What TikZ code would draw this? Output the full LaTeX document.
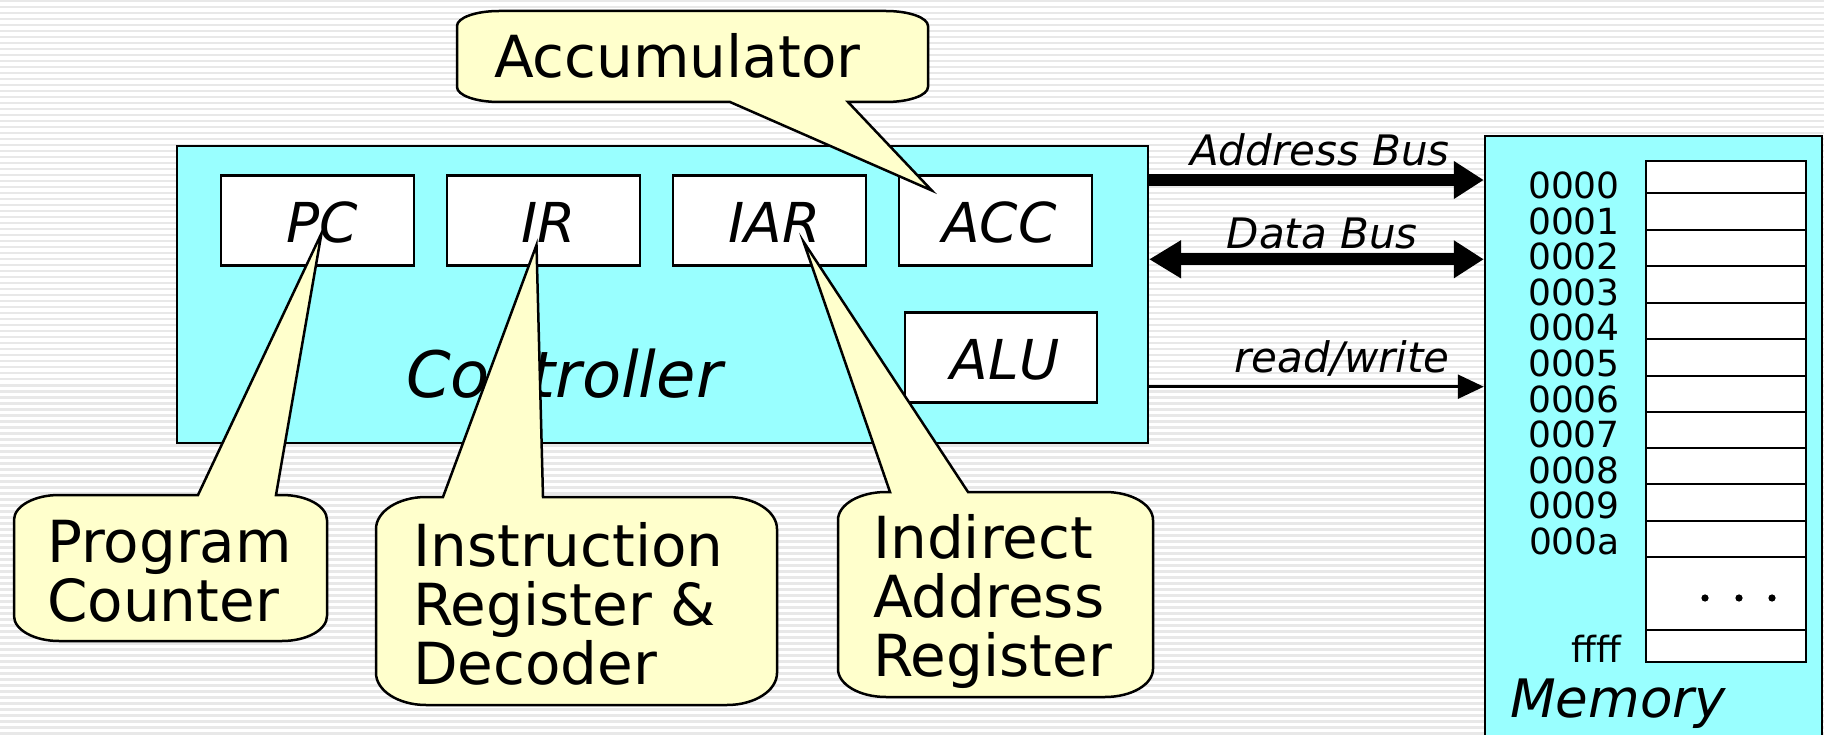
\documentclass[tikz,border=0pt]{standalone}
\usepackage{fontspec}
\setmainfont{DejaVu Sans}
\usetikzlibrary{arrows.meta,calc}

\definecolor{cpucyan}{HTML}{99FFFF}
\definecolor{notecream}{HTML}{FFFFCC}
\definecolor{stripegray}{HTML}{E8E8E8}

\newcommand\fsz[1]{\fontsize{#1}{#1}\selectfont}

% speech bubble with its pointer leaving the top edge
% #1 x1, #2 y1, #3 x2, #4 y2, #5 corner x radius, #6 corner y radius,
% #7/#8 pointer base x positions, #9 pointer tip coordinate
\newcommand\notetop[9]{%
  \draw[bubble] (#1,#2+#6) arc[start angle=180,end angle=270,x radius=#5,y radius=#6]
    -- (#7,#2) -- (#9) -- (#8,#2) -- (#3-#5,#2)
    arc[start angle=270,end angle=360,x radius=#5,y radius=#6]
    -- (#3,#4-#6) arc[start angle=0,end angle=90,x radius=#5,y radius=#6]
    -- (#1+#5,#4) arc[start angle=90,end angle=180,x radius=#5,y radius=#6] -- cycle;}
% same, pointer leaving the bottom edge
\newcommand\notebottom[9]{%
  \draw[bubble] (#1,#2+#6) arc[start angle=180,end angle=270,x radius=#5,y radius=#6]
    -- (#3-#5,#2) arc[start angle=270,end angle=360,x radius=#5,y radius=#6]
    -- (#3,#4-#6) arc[start angle=0,end angle=90,x radius=#5,y radius=#6]
    -- (#8,#4) -- (#9) -- (#7,#4)
    -- (#1+#5,#4) arc[start angle=90,end angle=180,x radius=#5,y radius=#6] -- cycle;}

\tikzset{
  outline/.style={draw=black, line width=2.5pt},
  unitbox/.style={outline, fill=cpucyan, inner sep=0pt},
  reg/.style={outline, fill=white, minimum width=193pt, minimum height=90pt,
    inner sep=0pt, text depth=0pt, font=\fsz{55}\itshape},
  reglabel/.style={anchor=base, inner sep=0pt, font=\fsz{55}\itshape},
  bubble/.style={draw=black, line width=2.5pt, fill=notecream, line join=miter},
  note/.style={anchor=north west, inner sep=0pt, align=left,
    font=\fontsize{58}{59}\selectfont},
  buslabel/.style={anchor=base east, inner sep=0pt, font=\fsz{42}\itshape},
  addr/.style={anchor=base east, inner sep=0pt, font=\fsz{36}},
  bigitalic/.style={anchor=base west, inner sep=0pt, font=\fsz{#1}\itshape},
  cellline/.style={draw=black, line width=2.5pt},
  bus/.style={line width=12pt, -{Triangle[length=30pt,width=36pt]}},
  bidibus/.style={line width=12pt, {Triangle[length=32pt,width=36pt]}-{Triangle[length=30pt,width=36pt]}},
  signal/.style={line width=2.5pt, -{Triangle[length=26pt,width=24pt]}},
}

\begin{document}
\begin{tikzpicture}[x=1pt, y=-1pt]
  \useasboundingbox (0,0) rectangle (1824,735);
  \clip (0,0) rectangle (1824,735);

  % striped backdrop
  \fill[white] (0,0) rectangle (1824,735);
  \foreach \i in {0,...,122} {\fill[stripegray] (0,\i*6) rectangle (1824,\i*6+2.5);}

  % controller and its registers
  \node[unitbox, minimum width=971pt, minimum height=297pt] (ctrl) at (662.4,294.5) {};
  \node[reg] (pc)  at (317.5,220.7) {};
  \node[reg] (ir)  at (543.5,220.7) {};
  \node[reg] (iar) at (769.5,220.7) {};
  \node[reg] (acc) at (995.5,220.7) {};
  \node[reg, minimum width=192pt] (alu) at (1001,357.7) {};
  \node[reglabel] (pctext)  at ($(pc.center)+(5,22)$) {PC};
  \node[reglabel] (irtext)  at ($(ir.center)+(5,22)$) {IR};
  \node[reglabel] (iartext) at ($(iar.center)+(5,22)$) {IAR};
  \node[reglabel] (acctext) at ($(acc.center)+(4,22)$) {ACC};
  \node[reglabel] (alutext) at ($(alu.center)+(4,22)$) {ALU};
  \node[bigitalic=64] (ctrllabel) at (406,397) {Controller};

  % memory
  \node[unitbox, minimum width=337pt, minimum height=624pt] (mem) at (1653.5,448) {};
  \draw[cellline, fill=white] (1646,161) rectangle (1806,662);
  \foreach \y in {193,230,266,303,339,376,412,448,484,521,557,630}
    {\draw[cellline] (1646,\y) -- (1806,\y);}
  \foreach \lbl [count=\k from 0] in {0000,0001,0002,0003,0004,0005,0006,0007,0008,0009,000a}
    {\node[addr] (addr\k) at (1620,198.5+35.6*\k) {\lbl};}
  \node[addr] (addrlast) at (1621,662) {ffff};
  \foreach \x in {1705,1739,1772} {\fill (\x,598) circle[radius=3.6];}
  \node[bigitalic=53] (memlabel) at (1510,717) {Memory};

  % buses between controller and memory
  \draw[bus] (ctrl.east |- 0,180) -- (mem.west |- 0,180);
  \draw[bidibus] (ctrl.east |- 0,259.3) -- (mem.west |- 0,259.3);
  \draw[signal] (ctrl.east |- 0,386.7) -- (mem.west |- 0,386.7);
  \node[buslabel] (abuslabel) at (1450,166) {Address Bus};
  \node[buslabel] (dbuslabel) at (1418,249) {Data Bus};
  \node[buslabel] (rwlabel) at (1450,373) {read/write};

  % pointer tips of the explanatory bubbles
  \coordinate (pctip)  at ($(pc.center)+(4,12.6)$);
  \coordinate (irtip)  at ($(ir.center)+(-7,24.3)$);
  \coordinate (iartip) at ($(iar.center)+(34,21)$);
  \coordinate (acctip) at ($(acc.north west)+(34,16)$);

  \notebottom{457}{11}{928}{102}{42}{15}{730}{848}{acctip}
  \notetop{14}{495}{327}{641}{45}{25}{198}{276}{pctip}
  \notetop{376}{497}{777}{705}{50}{32}{443}{543}{irtip}
  \notetop{838}{492}{1153}{697}{48}{28}{890}{968}{iartip}

  \node[note] (accnote) at (494,27) {\rule{0pt}{50pt}Accumulator};
  \node[note] (pcnote)  at (47,512) {\rule{0pt}{50pt}Program\\Counter};
  \node[note] (irnote)  at (413,516.7) {\rule{0pt}{50pt}Instruction\\Register \&\\Decoder};
  \node[note] (iarnote) at (873,508) {\rule{0pt}{50pt}Indirect\\Address\\Register};
\end{tikzpicture}
\end{document}
